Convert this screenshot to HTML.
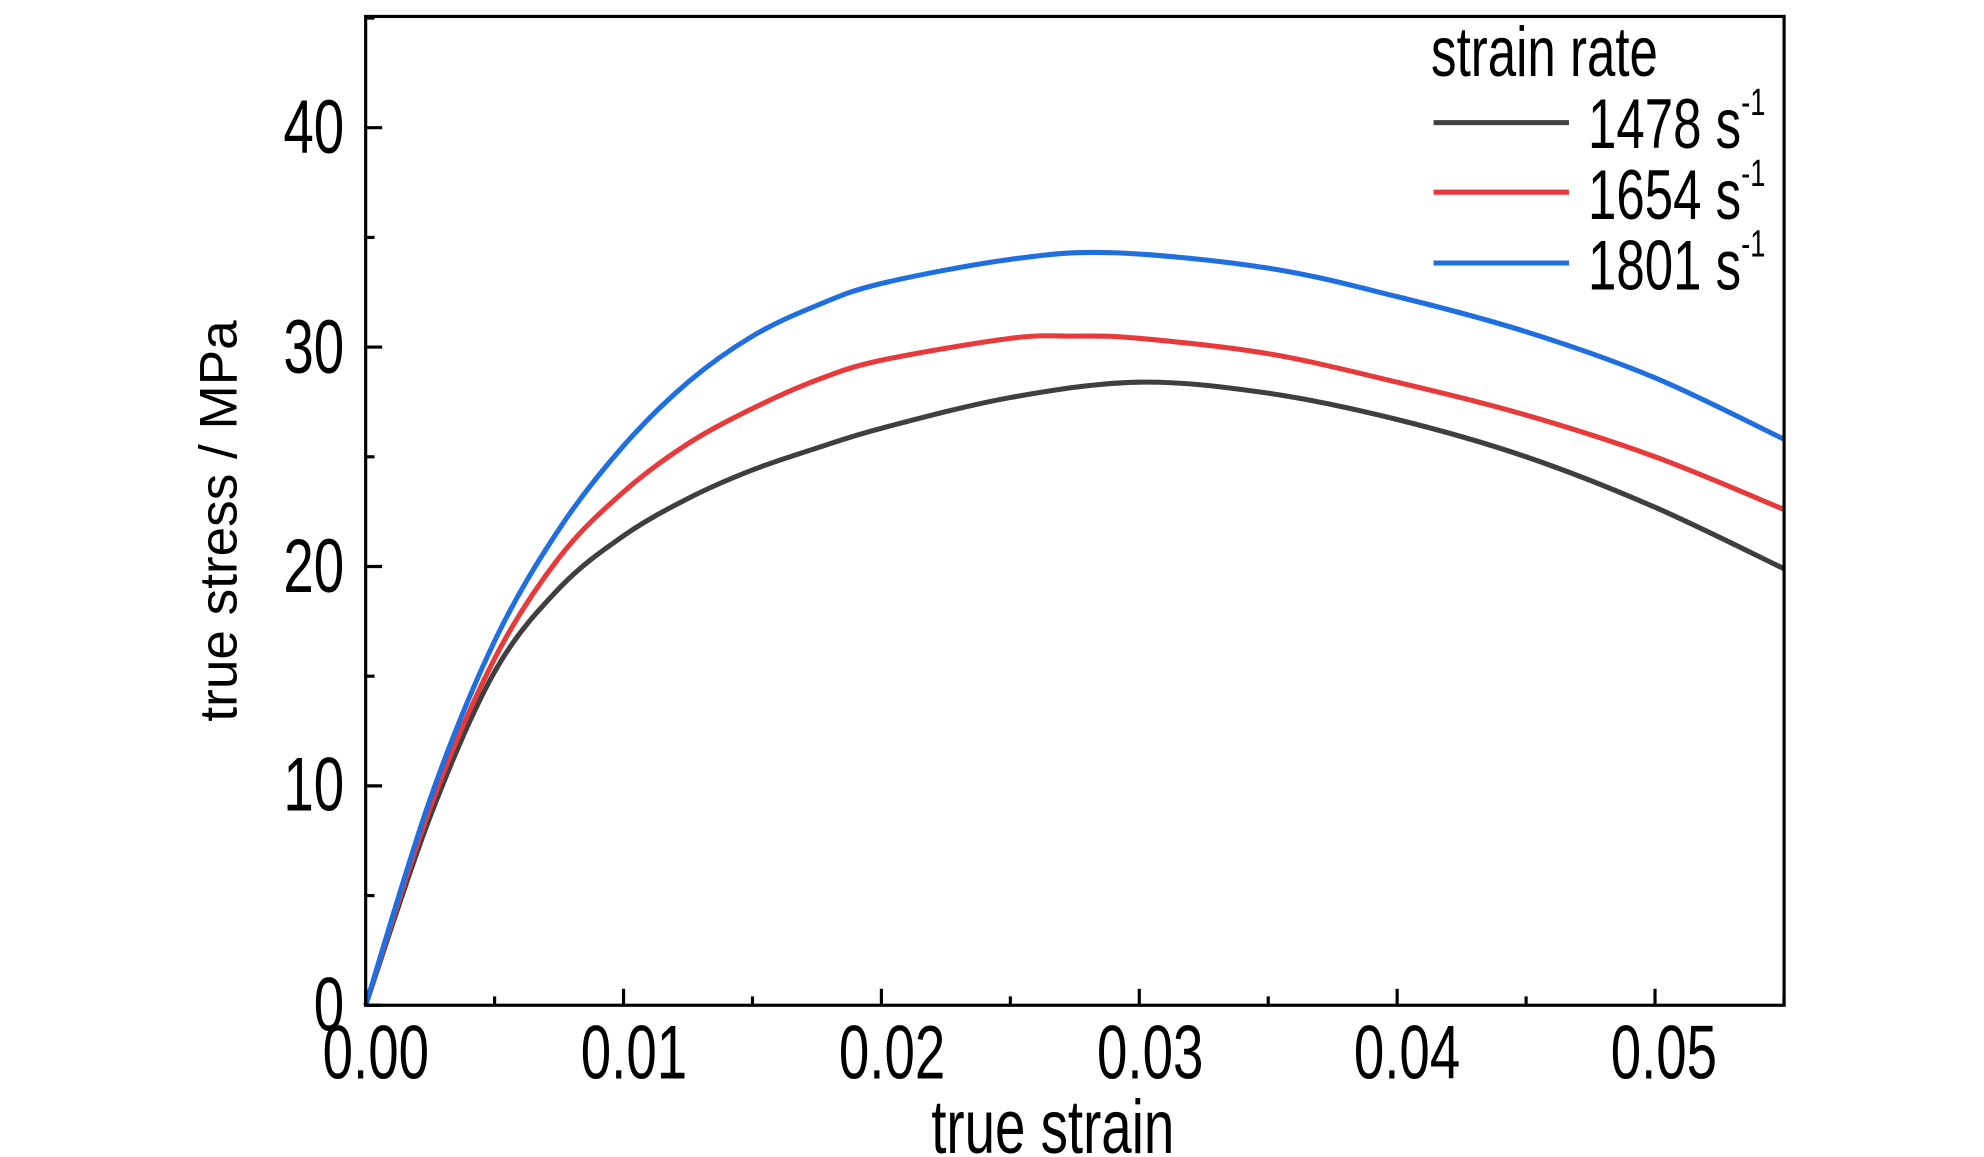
<!DOCTYPE html>
<html><head><meta charset="utf-8"><style>
html,body{margin:0;padding:0;background:#fff;}
svg{display:block;}
text{font-family:"Liberation Sans",Arial,sans-serif;fill:#000;}
</style></head><body>
<svg id="s" width="1984" height="1157" viewBox="0 0 1568 915" preserveAspectRatio="none" xmlns="http://www.w3.org/2000/svg">
<rect x="0" y="0" width="1568" height="915" fill="#fff"/>
<g id="curves"></g>
<rect x="289" y="13" width="1121" height="782" fill="none" stroke="#000" stroke-width="2.5"/>
<g id="ticks" stroke="#000" stroke-width="2.5"></g>
<g font-size="60" text-anchor="end">
<text transform="translate(272,121) scale(0.72,1)">40</text>
<text transform="translate(272,295) scale(0.72,1)">30</text>
<text transform="translate(272,468) scale(0.72,1)">20</text>
<text transform="translate(272,641) scale(0.72,1)">10</text>
<text transform="translate(272,815) scale(0.72,1)">0</text>
</g>
<g font-size="60" text-anchor="middle">
<text transform="translate(297,853) scale(0.72,1)">0.00</text>
<text transform="translate(501,853) scale(0.72,1)">0.01</text>
<text transform="translate(705,853) scale(0.72,1)">0.02</text>
<text transform="translate(909,853) scale(0.72,1)">0.03</text>
<text transform="translate(1112,853) scale(0.72,1)">0.04</text>
<text transform="translate(1315,853) scale(0.72,1)">0.05</text>
<text transform="translate(832,912) scale(0.72,1)">true strain</text>
</g>
<text transform="translate(187,412) rotate(-90)" font-size="42" text-anchor="middle">true stress / MPa</text>
<g font-size="56">
<text transform="translate(1131,60) scale(0.72,1)">strain rate</text>
<text transform="translate(1255,117) scale(0.72,1)">1478 s<tspan font-size="30" dy="-26">-1</tspan></text>
<text transform="translate(1255,173) scale(0.72,1)">1654 s<tspan font-size="30" dy="-26">-1</tspan></text>
<text transform="translate(1255,229) scale(0.72,1)">1801 s<tspan font-size="30" dy="-26">-1</tspan></text>
</g>
<line x1="1133" y1="97" x2="1240" y2="97" stroke="#3f3f3f" stroke-width="4"/>
<line x1="1133" y1="152" x2="1240" y2="152" stroke="#e8393b" stroke-width="4"/>
<line x1="1133" y1="208" x2="1240" y2="208" stroke="#1f6fe0" stroke-width="4"/>
</svg>
<script>
var X=function(e){return 289+e*20380;},Y=function(s){return 795-s*17.35;};
var data={
"#3f3f3f":[[0,0],[.0025,8.6],[.005,15.2],[.0075,19],[.01,21.4],[.0125,23.1],[.015,24.4],[.0175,25.4],[.02,26.3],[.025,27.7],[.03,28.4],[.035,27.9],[.04,26.7],[.045,25],[.05,22.7],[.055,19.9]],
"#e8393b":[[0,0],[.0025,9],[.005,15.8],[.0075,20.4],[.01,23.4],[.0125,25.6],[.015,27.2],[.0175,28.5],[.02,29.4],[.025,30.4],[.0275,30.5],[.03,30.4],[.035,29.7],[.04,28.4],[.045,26.9],[.05,25],[.055,22.6]],
"#1f6fe0":[[0,0],[.0025,9.4],[.005,16.6],[.0075,21.7],[.01,25.5],[.0125,28.4],[.015,30.5],[.0175,31.9],[.02,32.9],[.025,34],[.029,34.3],[.035,33.6],[.04,32.3],[.045,30.7],[.05,28.6],[.055,25.8]]};
var g=document.getElementById('curves'),h='';
for(var c in data){var p=data[c].map(function(d){return [X(d[0]),Y(d[1])];});
var d='M'+p[0][0]+','+p[0][1];
for(var i=0;i<p.length-1;i++){var p0=p[i-1]||p[i],p1=p[i],p2=p[i+1],p3=p[i+2]||p2;
d+='C'+(p1[0]+(p2[0]-p0[0])/6)+','+(p1[1]+(p2[1]-p0[1])/6)+' '+(p2[0]-(p3[0]-p1[0])/6)+','+(p2[1]-(p3[1]-p1[1])/6)+' '+p2[0]+','+p2[1];}
h+='<path d="'+d+'" fill="none" stroke="'+c+'" stroke-width="4" stroke-linejoin="round"/>';}
g.innerHTML=h;
var t='';
for(var i=0;i<=11;i++){var x=X(i*0.005),L=i%2?7:13;t+='<line x1="'+x+'" y1="795" x2="'+x+'" y2="'+(795-L)+'"/>';}
for(var i=0;i<=9;i++){var y=Y(i*5),L=i%2?7:13;t+='<line x1="289" y1="'+y+'" x2="'+(289+L)+'" y2="'+y+'"/>';}
document.getElementById('ticks').innerHTML=t;
</script>
</body></html>
